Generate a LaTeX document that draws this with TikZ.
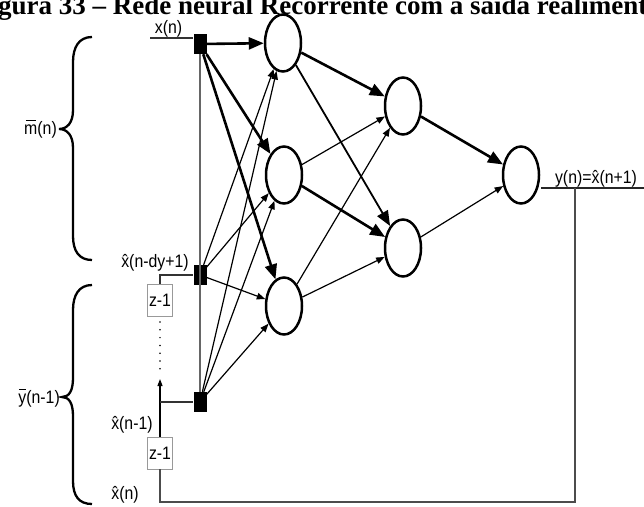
\documentclass[tikz,border=0pt]{standalone}
\usepackage{fontspec}
\setmainfont{Liberation Sans}
\newfontfamily\lblfont{Liberation Sans}[FakeStretch=0.88]
\newfontfamily\titlefont{Liberation Serif}
\usetikzlibrary{arrows.meta,shapes.geometric}
\newcommand\ovbar[2]{\ooalign{#2\cr\hidewidth\rule[0.74em]{#1}{0.065em}\hidewidth\cr}}
\begin{document}
\begin{tikzpicture}[x=1pt,y=-1pt,
  neuron/.style={draw,ellipse,line width=2.5pt,minimum width=36pt,minimum height=57pt,inner sep=0pt},
  tap/.style={fill=black,draw=none,minimum width=13pt,minimum height=20pt,inner sep=0pt},
  delay/.style={draw=black!40,line width=0.8pt,fill=white,minimum width=25pt,minimum height=32pt,inner sep=0pt,font=\lblfont\fontsize{18}{20}\selectfont},
  lbl/.style={inner sep=0pt,anchor=base,font=\lblfont\fontsize{18}{20}\selectfont},
  thickarr/.style={line width=2.6pt,-{Triangle[length=15pt,width=12pt]}},
  medarr/.style={line width=1.8pt,-{Triangle[length=15pt,width=12pt]}},
  thinarr/.style={line width=1.2pt,-{Triangle[length=8.5pt,width=6.5pt]}},
  bracepath/.style={line width=2.3pt},
  wire/.style={line width=1.2pt,draw=black!80},
  fbwire/.style={line width=1.4pt,draw=black!70},
]
\useasboundingbox (0,0) rectangle (644,506);
\fill[white] (0,0) rectangle (644,506);
\clip (0,0) rectangle (644,506);

% title
\node[anchor=base west,inner sep=0pt,font=\titlefont\bfseries\fontsize{27}{30}\selectfont] (title) at (-26,14.5) {Figura 33 – Rede neural Recorrente com a saída realimentada};

% neurons
\node[neuron] (C1) at (283,43) {};
\node[neuron] (C2) at (284,175) {};
\node[neuron] (C3) at (284,306) {};
\node[neuron] (C4) at (403,106) {};
\node[neuron] (C5) at (403,248) {};
\node[neuron] (C6) at (521,175) {};

% taps
\node[tap] (S1) at (200,44) {};
\node[tap] (S2) at (200,275) {};
\node[tap] (S3) at (200,402) {};

% delays
\node[delay] (Z1) at (160,300) {z-1};
\node[delay] (Z2) at (160,453) {z-1};

% labels
\node[lbl] (lx) at (168.5,33) {x(n)};
\node[lbl] (ldy) at (155,267) {\^{x}(n-dy+1)};
\node[lbl] (lx1) at (132,429) {\^{x}(n-1)};
\node[lbl] (lx0) at (125,499) {\^{x}(n)};
\node[lbl] (ly) at (596,183) {y(n)=\^{x}(n+1)};
\node[lbl,anchor=base east] (lm) at (57,134) {\ovbar{0.55em}{m}(n)};
\node[lbl,anchor=base east] (lyb) at (60,403) {\ovbar{0.4em}{y}(n-1)};

% vertical bus
\draw[black!60,line width=1.1pt] (S1.south) -- (S3.north);

% inputs
\coordinate (xin) at (150,38);
\draw[wire] (xin) -- (xin -| S1.west);
\draw[wire] (Z1.north) |- (S2.west);
\coordinate (up) at (160,379);
\draw[line width=1.1pt,-{Triangle[length=7pt,width=5pt]}] (Z2.north) -- (up);
\draw[wire] (Z2.north |- S3.west) -- (S3.west);
\coordinate (d1) at (160,322);
\coordinate (d2) at (160,369);
\draw[line width=1.7pt,line cap=round,dash pattern=on 0pt off 7.8pt] (d1) -- (d2);

% connections layer 1
\draw[thickarr] (S1) -- (C1);
\draw[thickarr] (S1) -- (C2);
\draw[thickarr] (S1) -- (C3);
\foreach \s in {S2,S3}{
  \foreach \c in {C1,C2,C3}{
    \draw[thinarr] (\s) -- (\c);
  }
}
% layer 2
\draw[thickarr] (C1) -- (C4);
\draw[medarr] (C1) -- (C5);
\draw[thinarr] (C2) -- (C4);
\draw[thickarr] (C2) -- (C5);
\draw[thinarr] (C3) -- (C4);
\draw[thinarr] (C3) -- (C5);
% output
\draw[thickarr] (C4) -- (C6);
\draw[thinarr] (C5) -- (C6);

% output and feedback
\coordinate (yo) at (644,188);
\coordinate (fb) at (575,188);
\coordinate (fbb) at (575,502);
\draw[line width=2pt,black!85] (541,188) -- (yo);
\draw[fbwire] (fb) -- (fbb) -| (Z2.south);

% braces
\draw[bracepath] (92,37) .. controls (79,37) and (73,47) .. (73,62) -- (73,110) .. controls (73,123) and (67,129) .. (59,129) .. controls (67,129) and (73,135) .. (73,148) -- (73,236) .. controls (73,251) and (79,260) .. (92,260);
\draw[bracepath] (92,285) .. controls (79,285) and (73,295) .. (73,310) -- (73,378) .. controls (73,391) and (69,397) .. (62,397) .. controls (69,397) and (73,403) .. (73,416) -- (73,481) .. controls (73,496) and (79,504) .. (92,504);
\end{tikzpicture}
\end{document}
